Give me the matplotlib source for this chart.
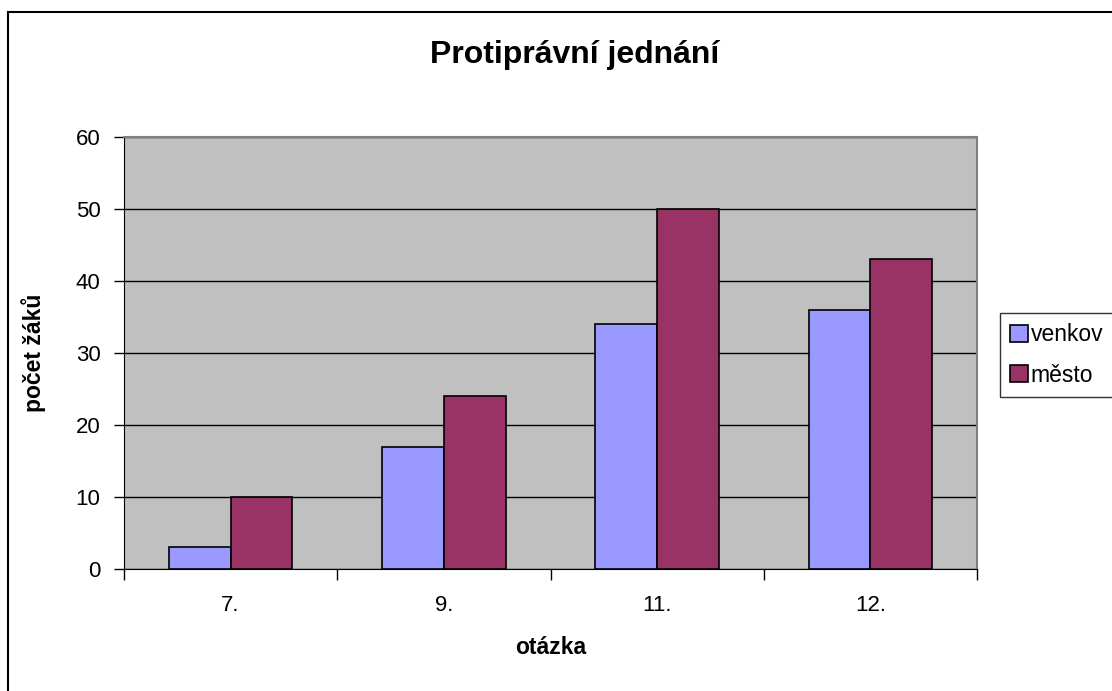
import matplotlib

matplotlib.use("Agg")
import matplotlib.pyplot as plt
import numpy as np
from matplotlib.patches import Rectangle

questions = ["7.", "9.", "11.", "12."]
venkov = [3, 17, 34, 36]
mesto = [10, 24, 50, 43]

plt.rcParams.update({"font.family": ["Liberation Sans", "DejaVu Sans"]})

fig = plt.figure(figsize=(11.12, 6.91), dpi=100)
ax = fig.add_axes([124 / 1112, 1 - 569 / 691, (977 - 124) / 1112, (569 - 137) / 691])

# outer chart border (only top and left visible in the crop)
fig.patches.append(
    Rectangle((7.5 / 1112, -0.1), 1.2, 1 - 11.5 / 691 + 0.1, transform=fig.transFigure,
              fill=False, edgecolor="black", linewidth=1.5)
)

x = np.arange(len(questions))
w = 0.29
ax.bar(x - w / 2, venkov, w, color="#9999FF", edgecolor="black", linewidth=1.2,
       label="venkov", zorder=3)
ax.bar(x + w / 2, mesto, w, color="#993366", edgecolor="black", linewidth=1.2,
       label="m\u011bsto", zorder=3)

ax.set_facecolor("#C0C0C0")
ax.set_xlim(-0.5, len(questions) - 0.5)
ax.set_ylim(0, 60)
ax.set_yticks(range(0, 61, 10))
ax.yaxis.grid(True, color="black", linewidth=1)
ax.set_axisbelow(True)

ax.set_xticks(x)
ax.set_xticklabels(questions, fontsize=16)
ax.set_xticks(np.arange(-0.5, len(questions)), minor=True)
ax.tick_params(axis="x", which="major", length=0, pad=19)
ax.tick_params(axis="x", which="minor", length=8, width=1, direction="out")
ax.tick_params(axis="y", length=7, width=1, labelsize=16, pad=10)

for side in ("top", "right"):
    ax.spines[side].set_color("#808080")
    ax.spines[side].set_linewidth(1.5)
ax.spines["left"].set_color("black")
ax.spines["bottom"].set_color("black")

ax.set_xlabel("ot\u00e1zka", fontsize=16.5, fontweight="bold", labelpad=14)
ax.set_ylabel("po\u010det \u017e\u00e1k\u016f", fontsize=16.5, fontweight="bold", labelpad=21)
fig.text(575 / 1112, 1 - 55 / 691, "Protipr\u00e1vn\u00ed jedn\u00e1n\u00ed", ha="center",
         va="center", fontsize=23, fontweight="bold")

leg = fig.legend(loc="upper left", bbox_to_anchor=(1000 / 1112, 1 - 313 / 691),
                 fontsize=16.5, frameon=True, fancybox=False, edgecolor="black",
                 handlelength=0.75, handleheight=0.75, handletextpad=0.15,
                 borderpad=0.45, labelspacing=0.75, borderaxespad=0)
leg.get_frame().set_linewidth(1)

fig.savefig("out.png", dpi=100)
